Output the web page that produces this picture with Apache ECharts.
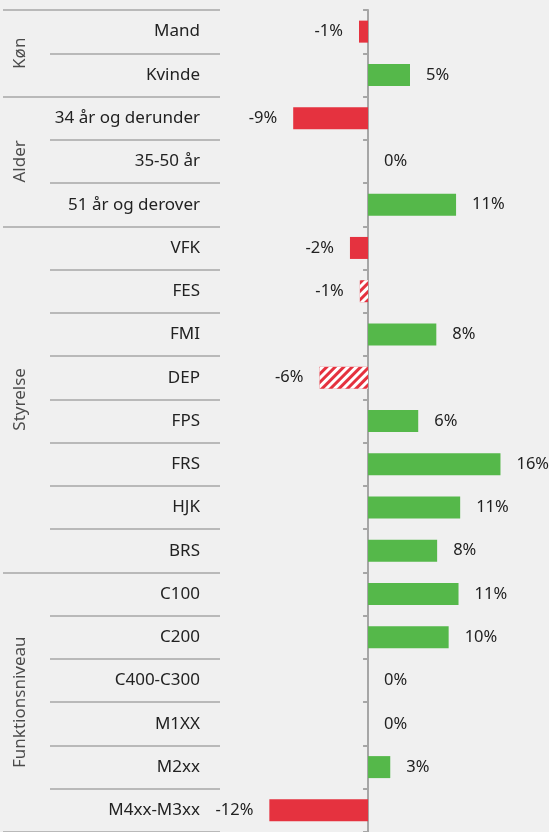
<!DOCTYPE html>
<html>
<head>
<meta charset="utf-8">
<script src="https://cdn.jsdelivr.net/npm/echarts@6/dist/echarts.min.js"></script>
<style>
  html, body { margin: 0; padding: 0; background: #f0f0f0; }
  #chart { width: 549px; height: 832px; }
</style>
</head>
<body>
<div id="chart"></div>
<script>
const categories = [
  'Mand', 'Kvinde',
  '34 år og derunder', '35-50 år', '51 år og derover',
  'VFK', 'FES', 'FMI', 'DEP', 'FPS', 'FRS', 'HJK', 'BRS',
  'C100', 'C200', 'C400-C300', 'M1XX', 'M2xx', 'M4xx-M3xx'
]
const values = [
  -1.1, 5.1,
  -9.1, 0, 10.7,
  -2.2, -1.0, 8.3, -5.9, 6.1, 16.1, 11.2, 8.4,
  11.0, 9.8, 0, 0, 2.7, -12.0
]
// categories drawn with a striped fill
const hatched = ['FES', 'DEP']
const groups = ['Køn', 'Alder', 'Styrelse', 'Funktionsniveau']
const groupSizes = [2, 3, 8, 6]

const FONT = 'Noto Sans'
const RED = '#e5323f'
const GREEN = '#55b84a'
const LINE = '#a6a6a6'
const TEXT = '#222222'

// first category index of each group
const groupStarts = []
groupSizes.reduce((acc, n) => { groupStarts.push(acc); return acc + n }, 0)

function barData() {
  return values.map((v, i) => {
    const striped = hatched.indexOf(categories[i]) >= 0
    return {
      value: v,
      itemStyle: striped
        ? { color: RED, decal: { symbol: 'rect', color: '#ffffff', dashArrayX: [1, 0], dashArrayY: [2.5, 2.5], rotation: -Math.PI / 4 } }
        : { color: v < 0 ? RED : GREEN },
      label: { position: v < 0 ? 'left' : 'right' }
    }
  })
}

function groupLabelData() {
  return groups.map((g, i) => ({
    name: g,
    value: [0.5, groupStarts[i] + groupSizes[i] / 2]
  }))
}

const chart = echarts.init(document.getElementById('chart'))
chart.setOption({
  backgroundColor: '#f0f0f0',
  animation: false,
  grid: [
    { left: 220, right: 0, top: 10, height: 823 },
    { left: 0, width: 40, top: 10, height: 823 }
  ],
  xAxis: [
    { type: 'value', gridIndex: 0, min: -18, max: 22, show: false },
    { type: 'value', gridIndex: 1, min: 0, max: 1, show: false }
  ],
  yAxis: [
    {
      // axis line through zero with short ticks
      type: 'category', gridIndex: 0, data: categories, inverse: true,
      axisLine: { show: true, onZero: true, lineStyle: { color: LINE, width: 2 } },
      axisTick: { show: true, length: 5, lineStyle: { color: LINE, width: 2 } },
      axisLabel: { show: false }
    },
    {
      // category labels and row separators
      type: 'category', gridIndex: 0, data: categories, inverse: true, position: 'left',
      axisLine: { show: false, onZero: false },
      axisTick: { show: true, length: 170, lineStyle: { color: LINE, width: 1.5 } },
      axisLabel: { margin: 20, fontFamily: FONT, fontSize: 17, color: TEXT }
    },
    {
      // group separators
      type: 'category', gridIndex: 0, data: categories, inverse: true, position: 'left',
      axisLine: { show: false, onZero: false },
      axisTick: {
        show: true,
        length: 217,
        interval: idx => groupStarts.indexOf(idx) >= 0,
        lineStyle: { color: LINE, width: 1.5 }
      },
      axisLabel: { show: false }
    },
    { type: 'value', gridIndex: 1, min: 0, max: categories.length, inverse: true, show: false }
  ],
  series: [
    {
      type: 'bar',
      xAxisIndex: 0,
      yAxisIndex: 0,
      barWidth: 22,
      data: barData(),
      label: {
        show: true,
        distance: 16,
        fontFamily: FONT,
        fontSize: 16.5,
        color: TEXT,
        formatter: p => Math.round(p.value) + '%'
      }
    },
    {
      type: 'scatter',
      xAxisIndex: 1,
      yAxisIndex: 3,
      symbolSize: 0,
      data: groupLabelData(),
      label: {
        show: true,
        position: 'inside',
        rotate: 90,
        fontFamily: FONT,
        fontSize: 17,
        color: TEXT,
        formatter: p => p.name
      }
    }
  ]
})
</script>
</body>
</html>
